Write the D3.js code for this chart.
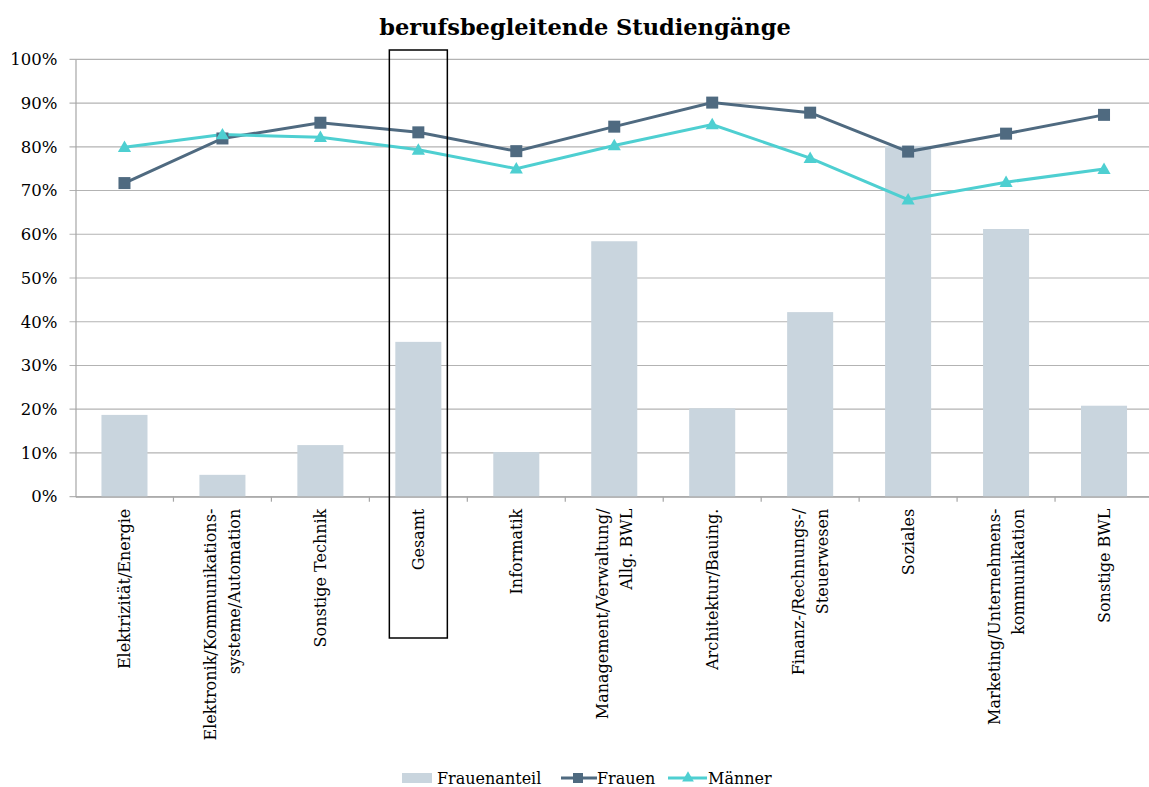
<!DOCTYPE html>
<html>
<head>
<meta charset="utf-8">
<script src="https://cdn.jsdelivr.net/npm/d3@7"></script>
<style>
  body { margin: 0; background: #fff; }
  text { font-family: "DejaVu Serif", "Liberation Serif", serif; fill: #000; }
</style>
</head>
<body>
<svg id="chart"></svg>
<script>
const categories = [
  ["Elektrizität/Energie"],
  ["Elektronik/Kommunikations-", "systeme/Automation"],
  ["Sonstige Technik"],
  ["Gesamt"],
  ["Informatik"],
  ["Management/Verwaltung/", "Allg. BWL"],
  ["Architektur/Bauing."],
  ["Finanz-/Rechnungs-/", "Steuerwesen"],
  ["Soziales"],
  ["Marketing/Unternehmens-", "kommunikation"],
  ["Sonstige BWL"]
];
const frauenanteil = [18.7, 5.0, 11.8, 35.4, 10.2, 58.4, 20.2, 42.2, 80.2, 61.2, 20.8];
const frauen = [71.7, 81.9, 85.5, 83.3, 79.0, 84.6, 90.1, 87.8, 78.9, 83.0, 87.3];
const maenner = [79.9, 82.8, 82.2, 79.3, 75.0, 80.3, 85.1, 77.4, 67.9, 71.9, 74.9];
const yTicks = [0, 10, 20, 30, 40, 50, 60, 70, 80, 90, 100];
const highlight = "Gesamt";

const width = 1149, height = 787;
const margin = {top: 59.3, right: -4, bottom: 290.3, left: 75.5};
const colBar = "#c9d5de", colFrauen = "#4f6a80", colMaenner = "#4ecfd1";

const svg = d3.select("#chart").attr("width", width).attr("height", height);

const keys = categories.map(c => c.join(" "));
const x = d3.scaleBand().domain(keys)
    .range([margin.left, width - margin.right]).paddingInner(0.53).paddingOuter(0.265);
const xb = d3.scaleBand().domain(keys).range([margin.left, width - margin.right]);
const y = d3.scaleLinear().domain([0, 100]).range([height - margin.bottom, margin.top]);

// Gitterlinien
svg.append("g").selectAll("line").data(yTicks).enter().append("line")
    .attr("x1", margin.left - 6).attr("x2", width)
    .attr("y1", d => y(d)).attr("y2", d => y(d))
    .attr("stroke", "#b3b3b3").attr("stroke-width", 1.2);

// y-Achse
const yAxis = svg.append("g")
    .attr("transform", `translate(${margin.left},0)`)
    .call(d3.axisLeft(y).tickValues(yTicks).tickFormat(d => d + "%").tickSize(0).tickPadding(18));
yAxis.select(".domain").attr("stroke", "#a6a6a6").attr("stroke-width", 1.2);
yAxis.selectAll("text").style("font-size", "16.5px").style("font-family", "DejaVu Serif");

// Balken
svg.append("g").selectAll("rect").data(frauenanteil).enter().append("rect")
    .attr("x", (d, i) => x(keys[i]))
    .attr("y", d => y(d))
    .attr("width", x.bandwidth())
    .attr("height", d => y(0) - y(d))
    .attr("fill", colBar);

// x-Achse
const xAxis = svg.append("g")
    .attr("transform", `translate(0,${y(0)})`)
    .call(d3.axisBottom(xb).tickSize(0).tickFormat(""));
xAxis.select(".domain").attr("stroke", "#a6a6a6").attr("stroke-width", 1.2);
xAxis.selectAll(".tick").remove();
svg.append("g").selectAll("line").data(keys.slice(1)).enter().append("line")
    .attr("x1", d => xb(d)).attr("x2", d => xb(d))
    .attr("y1", y(0)).attr("y2", y(0) + 5)
    .attr("stroke", "#a6a6a6").attr("stroke-width", 1.2);

// x-Beschriftungen
const labels = svg.append("g").selectAll("text").data(categories).enter().append("text")
    .attr("text-anchor", "end")
    .style("font-size", "16px")
    .attr("transform", (d, i) => {
        const cx = xb(keys[i]) + xb.bandwidth() / 2;
        const off = (d.length - 1) * 12;
        return `translate(${cx + 6 - off},${y(0) + 12}) rotate(-90)`;
    });
labels.each(function(d) {
    const t = d3.select(this);
    d.forEach((line, j) => {
        t.append("tspan").attr("x", 0).attr("dy", j === 0 ? 0 : 24).text(line);
    });
});

// Linien
const line = d3.line()
    .x((d, i) => xb(keys[i]) + xb.bandwidth() / 2)
    .y(d => y(d));

svg.append("path").datum(frauen).attr("d", line)
    .attr("fill", "none").attr("stroke", colFrauen).attr("stroke-width", 3);
svg.append("path").datum(maenner).attr("d", line)
    .attr("fill", "none").attr("stroke", colMaenner).attr("stroke-width", 3);

svg.append("g").selectAll("rect").data(frauen).enter().append("rect")
    .attr("x", (d, i) => xb(keys[i]) + xb.bandwidth() / 2 - 6)
    .attr("y", d => y(d) - 6)
    .attr("width", 12).attr("height", 12)
    .attr("fill", colFrauen);

const tri = d3.symbol().type(d3.symbolTriangle).size(75);
svg.append("g").selectAll("path").data(maenner).enter().append("path")
    .attr("d", tri)
    .attr("transform", (d, i) => `translate(${xb(keys[i]) + xb.bandwidth() / 2},${y(d) + 1})`)
    .attr("fill", colMaenner);

// Rahmen um Gesamt
const hx = xb(highlight) + xb.bandwidth() / 2;
svg.append("rect")
    .attr("x", hx - 29).attr("y", 50)
    .attr("width", 58).attr("height", 588)
    .attr("fill", "none").attr("stroke", "#000").attr("stroke-width", 1.5);

// Titel
svg.append("text")
    .attr("x", 585).attr("y", 35)
    .attr("text-anchor", "middle")
    .style("font-size", "22.5px").style("font-weight", "bold")
    .text("berufsbegleitende Studiengänge");

// Legende
const legend = svg.append("g").attr("transform", "translate(0,778)");
legend.append("rect").attr("x", 402).attr("y", -5).attr("width", 30).attr("height", 10).attr("fill", colBar);
legend.append("text").attr("x", 437).attr("y", 6).style("font-size", "16px").text("Frauenanteil");
legend.append("line").attr("x1", 561).attr("x2", 597).attr("y1", 0).attr("y2", 0)
    .attr("stroke", colFrauen).attr("stroke-width", 3);
legend.append("rect").attr("x", 573).attr("y", -5).attr("width", 10).attr("height", 10).attr("fill", colFrauen);
legend.append("text").attr("x", 597).attr("y", 6).style("font-size", "16px").text("Frauen");
legend.append("line").attr("x1", 668).attr("x2", 707).attr("y1", 0).attr("y2", 0)
    .attr("stroke", colMaenner).attr("stroke-width", 3);
legend.append("path").attr("d", d3.symbol().type(d3.symbolTriangle).size(60))
    .attr("transform", "translate(688,0)").attr("fill", colMaenner);
legend.append("text").attr("x", 708).attr("y", 6).style("font-size", "16px").text("Männer");
</script>
</body>
</html>
